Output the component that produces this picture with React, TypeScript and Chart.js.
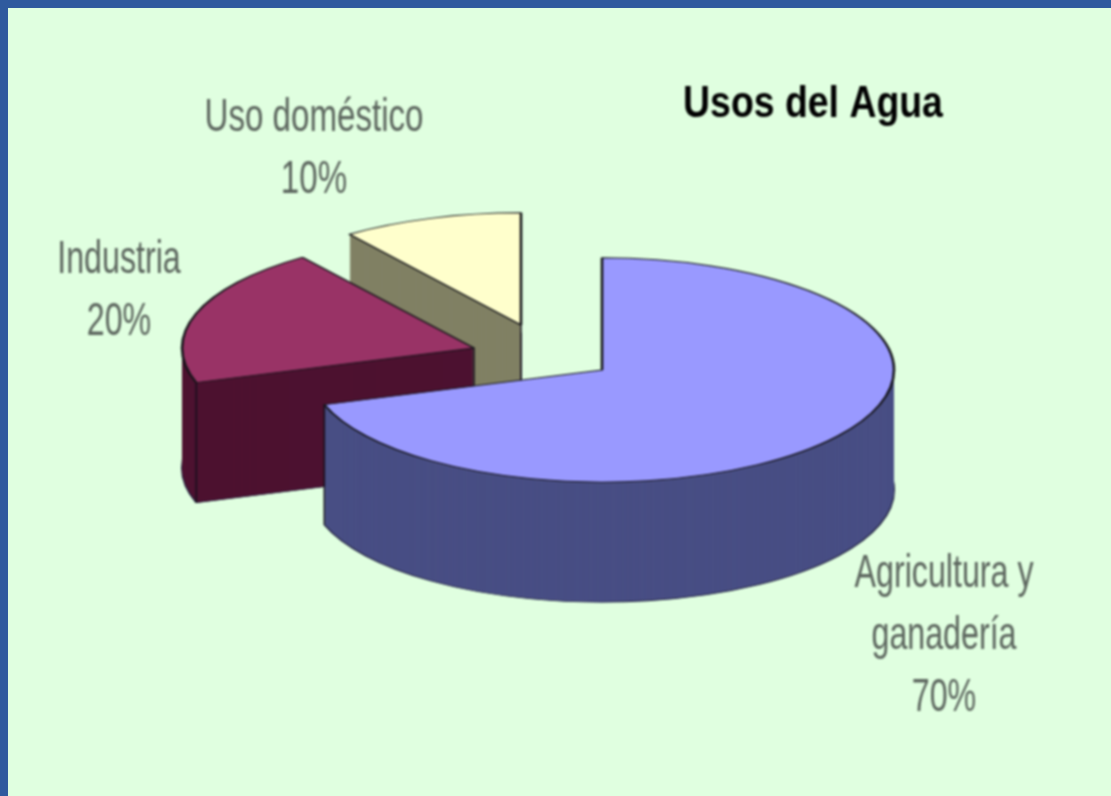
import React, { useEffect, useRef } from "react";
import { Chart, registerables } from "chart.js";

Chart.register(...registerables);

const categories = ["Agricultura y ganadería", "Industria", "Uso doméstico"];
const shares = [70, 20, 10];
const topColors = ["#9999ff", "#993366", "#ffffcc"];
const wallColors = ["#484e84", "#4d1230", "#808064"];
const chartTitle = "Usos del Agua";
const labelLines = [
  ["Agricultura y", "ganadería", "70%"],
  ["Industria", "20%"],
  ["Uso doméstico", "10%"],
];
// Screen position of each slice's apex on the canvas (canvas sits at 8,8 in the page)
const apexes = [
  [594, 362],
  [466, 340],
  [513, 317],
];
const labelAnchors = [
  [936, 566],
  [111, 252],
  [306, 110],
];
const labelStretch = [0.7, 0.7, 0.72];
// Which vertical corners of each slice stay in view
const visibleCorners = [["end"], ["start", "apex"], ["apex"]];
const PAGE_BLUE = "#2f5a9e";
const PANEL = "#e0ffe0";
const RADIUS = 292;
const SQUASH = 0.384;
const DEPTH = 120;
const LINE_GAP = 62;

const pie3d = {
  id: "pie3d",
  beforeDatasetsDraw(chart: any) {
    const ctx = chart.ctx;
    const arcs = chart.getDatasetMeta(0).data;
    // back to front: domestic, industry, agriculture
    [2, 1, 0].forEach((i) => {
      const el = arcs[i];
      const base = el.options;
      const [tx, ty] = apexes[i];
      const paint = (dy: number, opts: any) => {
        ctx.save();
        ctx.translate(tx, ty + dy);
        ctx.scale(1, SQUASH);
        ctx.translate(-el.x, -el.y);
        el.options = { ...base, ...opts };
        el.draw(ctx);
        el.options = base;
        ctx.restore();
      };
      paint(DEPTH, { backgroundColor: wallColors[i], borderColor: "#1c1c3a", borderWidth: 2 });
      for (let d = DEPTH - 1; d > 0; d--) {
        paint(d, { backgroundColor: wallColors[i], borderWidth: 0 });
      }
      ctx.save();
      ctx.strokeStyle = "#15101c";
      ctx.lineWidth = 1.5;
      visibleCorners[i].forEach((corner) => {
        const a = corner === "start" ? el.startAngle : el.endAngle;
        const px = corner === "apex" ? tx : tx + Math.cos(a) * RADIUS;
        const py = corner === "apex" ? ty : ty + Math.sin(a) * RADIUS * SQUASH;
        ctx.beginPath();
        ctx.moveTo(px, py);
        ctx.lineTo(px, py + DEPTH);
        ctx.stroke();
      });
      ctx.restore();
      paint(0, { backgroundColor: topColors[i], borderColor: "#141418", borderWidth: 2.6 });
    });
    return false;
  },
  afterDraw(chart: any) {
    const ctx = chart.ctx;
    const stretched = (text: string, x: number, y: number, font: string, sx: number, color: string) => {
      ctx.save();
      ctx.translate(x, y);
      ctx.scale(sx, 1);
      ctx.font = font;
      ctx.fillStyle = color;
      ctx.textAlign = "center";
      ctx.textBaseline = "middle";
      ctx.fillText(text, 0, 0);
      ctx.restore();
    };
    labelLines.forEach((lines, i) => {
      lines.forEach((line, j) => {
        stretched(line, labelAnchors[i][0], labelAnchors[i][1] + j * LINE_GAP, "46px 'Liberation Sans'", labelStretch[i], "#5c665e");
      });
    });
    stretched(chartTitle, 805, 97, "bold 44px 'Liberation Sans'", 0.85, "#000000");
  },
};

export default function App() {
  const ref = useRef<HTMLCanvasElement>(null);
  useEffect(() => {
    const html = document.documentElement;
    const body = document.body;
    body.style.margin = "8px 0 0 8px";
    body.style.background = PAGE_BLUE;
    html.style.overflow = "hidden";
    const chart = new Chart(ref.current as HTMLCanvasElement, {
      type: "pie",
      data: {
        labels: categories,
        datasets: [{ data: shares, backgroundColor: topColors, borderWidth: 0, radius: RADIUS } as any],
      },
      options: {
        responsive: false,
        animation: false,
        plugins: { legend: { display: false }, tooltip: { enabled: false }, title: { display: false } },
      },
      plugins: [pie3d as any],
    });
    return () => chart.destroy();
  }, []);
  return (
    <div style={{ width: 1103, height: 788, background: PANEL, overflow: "hidden" }}>
      <canvas ref={ref} width={1103} height={788} style={{ display: "block", filter: "blur(0.8px)" }} />
    </div>
  );
}
